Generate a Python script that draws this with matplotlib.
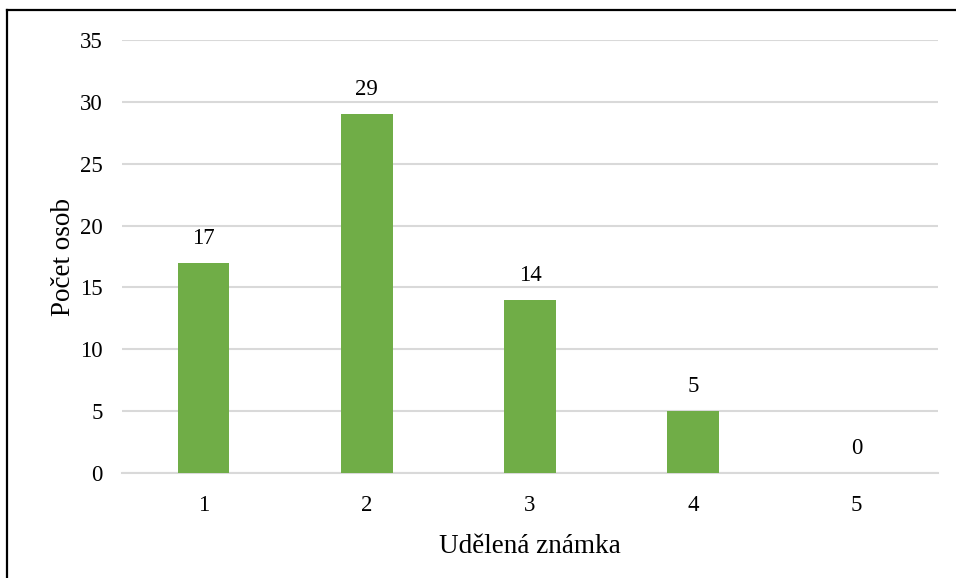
import numpy as np
import matplotlib.pyplot as plt
from matplotlib.lines import Line2D

categories = ['1', '2', '3', '4', '5']
counts = [17, 29, 14, 5, 0]

plt.rcParams['font.family'] = ['Liberation Serif', 'DejaVu Serif']

fig = plt.figure(figsize=(9.56, 5.78), dpi=100)
ax = fig.add_axes([122/956, 105/578, 816/956, 433/578])

x = np.arange(len(categories))
bars = ax.bar(x, counts, width=0.315, color='#70AD47', zorder=3)

for xi, v in zip(x, counts):
    ax.annotate(str(v), (xi, v), xytext=(0, 10), textcoords='offset points',
                ha='center', va='bottom', fontsize=16.5)

ax.set_xlim(-0.5, len(categories) - 0.5)
ax.set_ylim(0, 35)
ax.set_yticks(range(0, 36, 5))
ax.set_xticks(x)
ax.set_xticklabels(categories)
ax.tick_params(length=0, labelsize=16.5)
ax.tick_params(axis='y', pad=14)
ax.tick_params(axis='x', pad=16)
ax.grid(axis='y', color='#d9d9d9', linewidth=1.5, zorder=0)
for s in ['top', 'right', 'left']:
    ax.spines[s].set_visible(False)
ax.spines['bottom'].set_color('#d9d9d9')
ax.spines['bottom'].set_linewidth(1.5)

ax.set_xlabel('Udělená známka', fontsize=19.5, labelpad=13)
ax.set_ylabel('Počet osob', fontsize=19.5, labelpad=3)

# frame (left and top edges only visible)
fig.add_artist(Line2D([7/956, 7/956], [0, 1 - 10/578], color='black', lw=1.6, transform=fig.transFigure))
fig.add_artist(Line2D([7/956, 1], [1 - 10/578, 1 - 10/578], color='black', lw=1.6, transform=fig.transFigure))

fig.savefig('out.png', dpi=100)
